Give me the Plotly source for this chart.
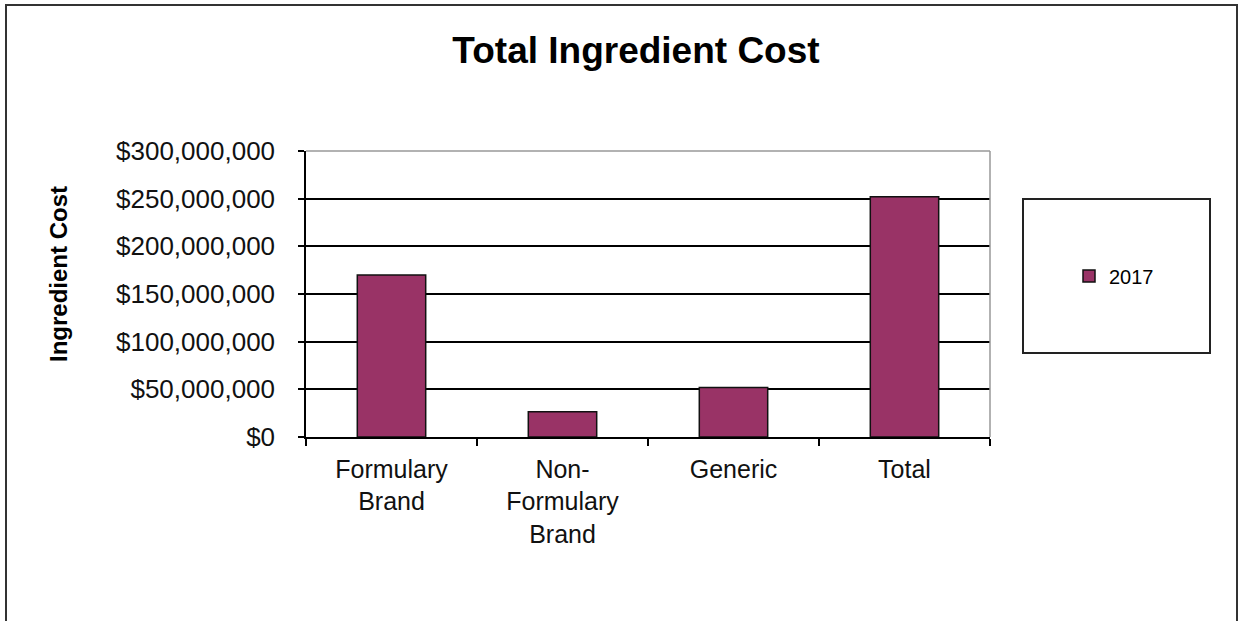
import plotly.graph_objects as go

categories = ["Formulary<br>Brand", "Non-<br>Formulary<br>Brand", "Generic", "Total"]
series_name = "2017"
values_2017 = [170_000_000, 26_500_000, 52_000_000, 252_000_000]
y_tickvals = [0, 50_000_000, 100_000_000, 150_000_000, 200_000_000, 250_000_000, 300_000_000]
y_ticktext = ["$0", "$50,000,000", "$100,000,000", "$150,000,000", "$200,000,000", "$250,000,000", "$300,000,000"]

W, H = 1241, 621
L, R, T, B = 306, 990, 151, 437
pw, ph = R - L, B - T

def px_x(p):
    return (p - L) / pw

def px_y(p):
    return (B - p) / ph

FONT = "Liberation Sans, Arial, sans-serif"

fig = go.Figure()
fig.add_trace(go.Bar(
    x=categories, y=values_2017, name=series_name, width=0.4,
    marker=dict(color="#993366", line=dict(color="#111111", width=1.5)),
    showlegend=True,
))

fig.update_layout(
    width=W, height=H,
    margin=dict(l=L, r=W - R, t=T, b=H - B, pad=0),
    paper_bgcolor="white", plot_bgcolor="white",
    font=dict(family=FONT, color="black"),
    title=dict(text="<b>Total Ingredient Cost</b>", x=636 / W, xref="container", xanchor="center",
               y=1 - 50 / H, yref="container", yanchor="middle",
               font=dict(size=37, family=FONT, color="black")),
    showlegend=True,
    legend=dict(x=px_x(1114), y=px_y(276), xanchor="center", yanchor="middle",
                bgcolor="rgba(0,0,0,0)", borderwidth=0,
                font=dict(size=20, family=FONT, color="black"),
                itemclick=False),
    bargap=0.6,
)

fig.update_yaxes(
    range=[0, 300_000_000], tickvals=y_tickvals, ticktext=y_ticktext,
    showgrid=True, gridcolor="black", gridwidth=1.5,
    showline=True, linecolor="black", linewidth=1.5,
    ticks="outside", ticklen=6, tickwidth=1.5, tickcolor="black",
    tickfont=dict(size=26, family=FONT, color="#111111"),
    ticklabelstandoff=18,
    zeroline=False, fixedrange=True,
)
fig.update_xaxes(
    showline=True, linecolor="black", linewidth=1.5,
    ticks="outside", ticklen=7, tickwidth=1.5, tickcolor="black",
    tickson="boundaries",
    tickfont=dict(size=25, family=FONT, color="#111111"),
    ticklabelstandoff=9,
    showgrid=False, fixedrange=True,
)

shapes = [
    # grey plot border top & right
    dict(type="line", xref="paper", yref="paper", x0=0, x1=1, y0=1, y1=1,
         line=dict(color="#999999", width=1.5), layer="above"),
    dict(type="line", xref="paper", yref="paper", x0=1, x1=1, y0=0, y1=1,
         line=dict(color="#999999", width=1.5), layer="above"),
    # legend box
    dict(type="rect", xref="paper", yref="paper",
         x0=px_x(1023), x1=px_x(1210), y0=px_y(353), y1=px_y(199),
         line=dict(color="#222222", width=2), fillcolor="rgba(0,0,0,0)"),
    # outer chart border
    dict(type="rect", xref="paper", yref="paper",
         x0=px_x(6), x1=px_x(1237), y0=px_y(640), y1=px_y(5),
         line=dict(color="#333333", width=2), fillcolor="rgba(0,0,0,0)"),
]
fig.update_layout(shapes=shapes)

fig.add_annotation(
    text="<b>Ingredient Cost</b>", xref="paper", yref="paper",
    x=px_x(58), y=px_y(274), xanchor="center", yanchor="middle",
    textangle=-90, showarrow=False,
    font=dict(size=24, family=FONT, color="black"),
)

fig.write_html(
    "out.html",
    config={"displayModeBar": False},
    post_script="document.body.style.margin='0';document.body.style.overflow='hidden';",
)
